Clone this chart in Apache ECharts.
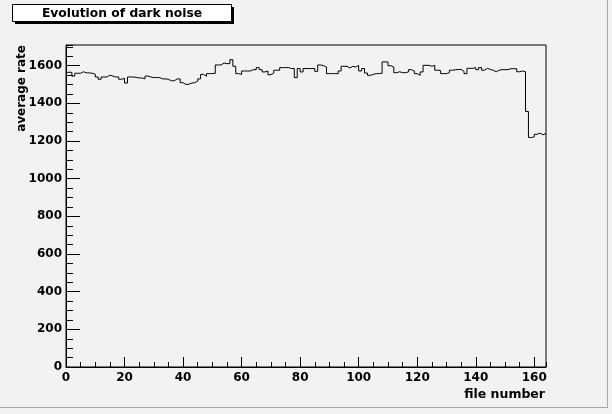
<!DOCTYPE html>
<html>
<head>
<meta charset="utf-8">
<script src="https://cdn.jsdelivr.net/npm/echarts@6/dist/echarts.min.js"></script>
<style>
html,body{margin:0;padding:0;background:#f2f2f2;}
#c{width:612px;height:414px;}
</style>
</head>
<body>
<div id="c"></div>
<script>
// Histogram: bin i covers [i, i+1)
var binStart = 0;
var binWidth = 1;
var averageRate = [
1565,1565,1545,1560,1560,1568,1562,1562,1560,1555,
1540,1528,1540,1540,1550,1545,1540,1540,1528,1533,
1508,1540,1540,1538,1535,1535,1530,1545,1540,1537,
1537,1537,1530,1530,1528,1520,1520,1530,1530,1510,
1500,1502,1508,1510,1518,1530,1554,1544,1558,1558,
1560,1604,1604,1614,1611,1611,1632,1597,1558,1554,
1572,1572,1572,1579,1579,1590,1579,1567,1572,1552,
1561,1576,1576,1590,1590,1590,1585,1585,1537,1585,
1567,1585,1585,1585,1585,1570,1604,1600,1593,1558,
1558,1558,1558,1572,1597,1597,1588,1597,1593,1602,
1572,1585,1561,1549,1554,1558,1558,1560,1620,1620,
1600,1593,1563,1568,1563,1563,1567,1579,1572,1558,
1549,1567,1602,1602,1597,1602,1576,1574,1558,1558,
1563,1576,1578,1580,1580,1570,1558,1586,1586,1590,
1579,1590,1576,1586,1580,1576,1568,1576,1579,1579,
1579,1584,1584,1584,1568,1572,1568,1357,1219,1222,
1236,1242,1233,1240
];
var xTickLabels = ['0','20','40','60','80','100','120','140','160'];
var yTickLabels = ['0','200','400','600','800','1000','1200','1400','1600'];
var xMax = 164, yMax = 1710;

var stepData = averageRate.map(function(v,i){ return [binStart + i*binWidth, v]; });
stepData.push([binStart + averageRate.length*binWidth, averageRate[averageRate.length-1]]);

var FONT = 'DejaVu Sans';
var chart = echarts.init(document.getElementById('c'), null, {renderer:'canvas'});
var gridPos = {left:66, top:45, right:66, bottom:47};
chart.setOption({
  backgroundColor:'#f2f2f2',
  animation:false,
  grid:[Object.assign({show:true, borderColor:'#000', borderWidth:1, backgroundColor:'transparent'}, gridPos)],
  xAxis:[{
    type:'value', min:0, max:xMax, interval:20, gridIndex:0,
    axisLine:{show:true, lineStyle:{color:'#000', width:1}},
    axisTick:{show:true, inside:true, length:10, lineStyle:{color:'#000'}},
    axisLabel:{show:true, margin:5, showMaxLabel:false, color:'#000', fontFamily:FONT, fontWeight:'bold', fontSize:12,
      formatter:function(v){ var s=String(v); return xTickLabels.indexOf(s)>=0 ? s : ''; }},
    splitLine:{show:false}
  },{
    type:'value', min:0, max:xMax, interval:5, gridIndex:0,
    axisLine:{show:false},
    axisTick:{show:true, inside:true, length:5, lineStyle:{color:'#000'}},
    axisLabel:{show:false}, splitLine:{show:false}, position:'bottom'
  }],
  yAxis:[{
    type:'value', min:0, max:yMax, interval:200, gridIndex:0,
    axisLine:{show:true, lineStyle:{color:'#000', width:1}},
    axisTick:{show:true, inside:true, length:14, lineStyle:{color:'#000'}},
    axisLabel:{show:true, margin:4, showMaxLabel:false, color:'#000', fontFamily:FONT, fontWeight:'bold', fontSize:12,
      formatter:function(v){ var s=String(v); return yTickLabels.indexOf(s)>=0 ? s : ''; }},
    splitLine:{show:false}
  },{
    type:'value', min:0, max:yMax, interval:50, gridIndex:0, position:'left',
    axisLine:{show:false},
    axisTick:{show:true, inside:true, length:7, lineStyle:{color:'#000'}},
    axisLabel:{show:false}, splitLine:{show:false}
  }],
  series:[{
    type:'line', step:'end', xAxisIndex:0, yAxisIndex:0,
    data:stepData, showSymbol:false, symbol:'none',
    lineStyle:{color:'#000', width:1}, silent:true
  }],
  graphic:[
    {type:'line', shape:{x1:0,y1:407.5,x2:608,y2:407.5}, style:{stroke:'#a8a8a8', lineWidth:1}},
    {type:'line', shape:{x1:607.5,y1:0,x2:607.5,y2:408}, style:{stroke:'#a8a8a8', lineWidth:1}},
    {type:'rect', shape:{x:15, y:7, width:219, height:17}, style:{fill:'#000'}},
    {type:'rect', shape:{x:12.5, y:4.5, width:219, height:17}, style:{fill:'#fff', stroke:'#000', lineWidth:1}},
    {type:'text', x:122, y:13.5, style:{text:'Evolution of dark noise', fill:'#000', font:'bold 12.3px "DejaVu Sans"', textAlign:'center', textVerticalAlign:'middle'}},
    {type:'text', x:545, y:395, style:{text:'file number', fill:'#000', font:'bold 12.5px "DejaVu Sans"', textAlign:'right', textVerticalAlign:'middle'}},
    {type:'text', x:22, y:45, rotation:Math.PI/2, style:{text:'average rate', fill:'#000', font:'bold 12px "DejaVu Sans"', textAlign:'right', textVerticalAlign:'middle'}}
  ]
});
</script>
</body>
</html>
